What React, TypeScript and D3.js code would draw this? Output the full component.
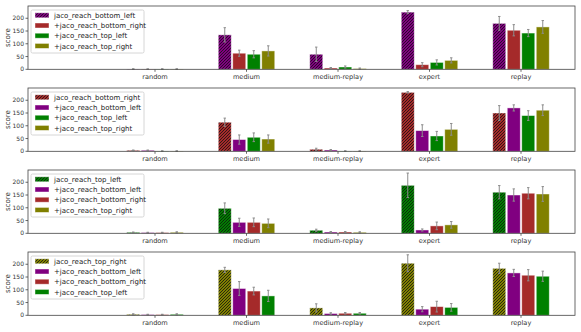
import React from "react";
import * as d3 from "d3";

const categories = ["random", "medium", "medium-replay", "expert", "replay"];
const yTicks = [0, 50, 100, 150, 200];

const COLORS: Record<string, string> = {
  bottom_left: "#800080",
  bottom_right: "#a52a2a",
  top_left: "#008000",
  top_right: "#808000",
};

// Panel 1
const p1Keys = ["bottom_left", "bottom_right", "top_left", "top_right"];
const p1Means = [
  [1, 135, 59, 224, 180],
  [1, 63, 5, 18, 153],
  [1, 59, 9, 27, 142],
  [1, 72, 3, 35, 166],
];
const p1Errs = [
  [1, 28, 28, 6, 27],
  [0.5, 12, 2, 8, 22],
  [1, 14, 4, 10, 14],
  [1, 20, 2, 10, 25],
];
// Panel 2
const p2Keys = ["bottom_right", "bottom_left", "top_left", "top_right"];
const p2Means = [
  [4, 114, 8, 231, 150],
  [4, 46, 5, 81, 170],
  [1, 55, 1, 60, 140],
  [1, 48, 1, 86, 161],
];
const p2Errs = [
  [1, 16, 4, 3, 29],
  [1, 18, 2, 23, 12],
  [1, 17, 1, 18, 19],
  [1, 16, 1, 23, 21],
];
// Panel 3
const p3Keys = ["top_left", "bottom_left", "bottom_right", "top_right"];
const p3Means = [
  [4, 98, 12, 188, 161],
  [3, 43, 5, 13, 150],
  [3, 43, 5, 29, 157],
  [4, 39, 4, 33, 154],
];
const p3Errs = [
  [1, 21, 4, 48, 26],
  [1, 16, 2, 4, 24],
  [1, 17, 2, 15, 22],
  [2, 17, 2, 13, 29],
];
// Panel 4
const p4Keys = ["top_right", "bottom_left", "bottom_right", "top_left"];
const p4Means = [
  [4, 178, 29, 204, 184],
  [3, 105, 7, 24, 166],
  [3, 95, 8, 34, 157],
  [4, 76, 8, 31, 153],
];
const p4Errs = [
  [2, 10, 16, 33, 20],
  [1, 27, 3, 10, 14],
  [1, 15, 3, 21, 22],
  [2, 22, 3, 15, 20],
];

const panels = [
  { keys: p1Keys, means: p1Means, errs: p1Errs },
  { keys: p2Keys, means: p2Means, errs: p2Errs },
  { keys: p3Keys, means: p3Means, errs: p3Errs },
  { keys: p4Keys, means: p4Means, errs: p4Errs },
];

const W = 581;
const H = 332;
const LEFT = 28;
const RIGHT = 575;
const PANEL_TOP0 = 6;
const PANEL_STEP = 82;
const PANEL_H = 63.3;
const BAR_W = 13;
const BAR_STEP = 14.5;
const FONT = "DejaVu Sans";

const x = d3.scaleLinear().domain([-1.388, 4.59]).range([LEFT, RIGHT]);

function Panel({ idx }: { idx: number }) {
  const p = panels[idx];
  const top = PANEL_TOP0 + idx * PANEL_STEP;
  const y = d3.scaleLinear().domain([0, 248]).range([top + PANEL_H, top]);
  const base = y(0);
  const axisColor = "#444";
  return (
    <g>
      {/* bars */}
      {p.keys.map((k, j) =>
        categories.map((c, i) => {
          const cx = x(i) + (j - 1.5) * BAR_STEP;
          const v = p.means[j][i];
          const e = p.errs[j][i];
          const fill = j === 0 ? `url(#hatch-${k})` : COLORS[k];
          return (
            <g key={`${k}-${c}`}>
              <rect
                x={cx - BAR_W / 2}
                y={y(v)}
                width={BAR_W}
                height={base - y(v)}
                fill={fill}
                stroke="#ffffff"
                strokeOpacity={0.55}
                strokeWidth={0.8}
              />
              <line x1={cx} x2={cx} y1={y(v + e)} y2={y(Math.max(0, v - e))} stroke="#8c8c8c" strokeWidth={1} />
              <line x1={cx - 1.2} x2={cx + 1.2} y1={y(v + e)} y2={y(v + e)} stroke="#8c8c8c" strokeWidth={1} />
              <line x1={cx - 1.2} x2={cx + 1.2} y1={y(Math.max(0, v - e))} y2={y(Math.max(0, v - e))} stroke="#8c8c8c" strokeWidth={1} />
            </g>
          );
        })
      )}
      {/* frame */}
      <rect x={LEFT} y={top} width={RIGHT - LEFT} height={PANEL_H} fill="none" stroke={axisColor} strokeWidth={0.8} />
      {/* y ticks */}
      {yTicks.map((t) => (
        <g key={t}>
          <line x1={LEFT - 2.5} x2={LEFT} y1={y(t)} y2={y(t)} stroke={axisColor} strokeWidth={0.8} />
          <text x={LEFT - 4} y={y(t)} dy="0.35em" textAnchor="end" fontSize={6} fontFamily={FONT} fill="#333">
            {t}
          </text>
        </g>
      ))}
      {/* x ticks */}
      {categories.map((c, i) => (
        <g key={c}>
          <line x1={x(i)} x2={x(i)} y1={base} y2={base + 2.5} stroke={axisColor} strokeWidth={0.8} />
          <text x={x(i)} y={base + 9.5} textAnchor="middle" fontSize={6.6} fontFamily={FONT} fill="#333">
            {c}
          </text>
        </g>
      ))}
      <text
        transform={`translate(9.5, ${top + PANEL_H / 2}) rotate(-90)`}
        textAnchor="middle"
        fontSize={7}
        fontFamily={FONT}
        fill="#333"
      >
        score
      </text>
      {/* legend */}
      <g>
        <rect x={31} y={top + 4} width={113} height={43} rx={1.5} fill="#fff" fillOpacity={0.85} stroke="#ccc" strokeWidth={0.8} />
        {p.keys.map((k, j) => {
          const ly = top + 9.5 + j * 10.2;
          return (
            <g key={k}>
              <rect
                x={35}
                y={ly - 2.7}
                width={14}
                height={5}
                fill={j === 0 ? `url(#hatch-${k})` : COLORS[k]}
                stroke="#fff"
                strokeOpacity={0.55}
                strokeWidth={0.8}
              />
              <text x={54} y={ly} dy="0.35em" fontSize={7} fontFamily={FONT} fill="#222">
                {(j === 0 ? "" : "+") + "jaco_reach_" + k}
              </text>
            </g>
          );
        })}
      </g>
    </g>
  );
}

export default function App() {
  return (
    <svg width={W} height={H} style={{ position: "absolute", left: 0, top: 0, background: "#fff" }}>
      <defs>
        {Object.entries(COLORS).map(([k, col]) => (
          <pattern key={k} id={`hatch-${k}`} patternUnits="userSpaceOnUse" width={3} height={3}>
            <rect width={3} height={3} fill={col} />
            <path d="M-1,1 L1,-1 M0,3 L3,0 M2,4 L4,2" stroke="#111" strokeWidth={0.8} />
          </pattern>
        ))}
      </defs>
      <rect width={W} height={H} fill="#fff" />
      {panels.map((_, i) => (
        <Panel key={i} idx={i} />
      ))}
    </svg>
  );
}
